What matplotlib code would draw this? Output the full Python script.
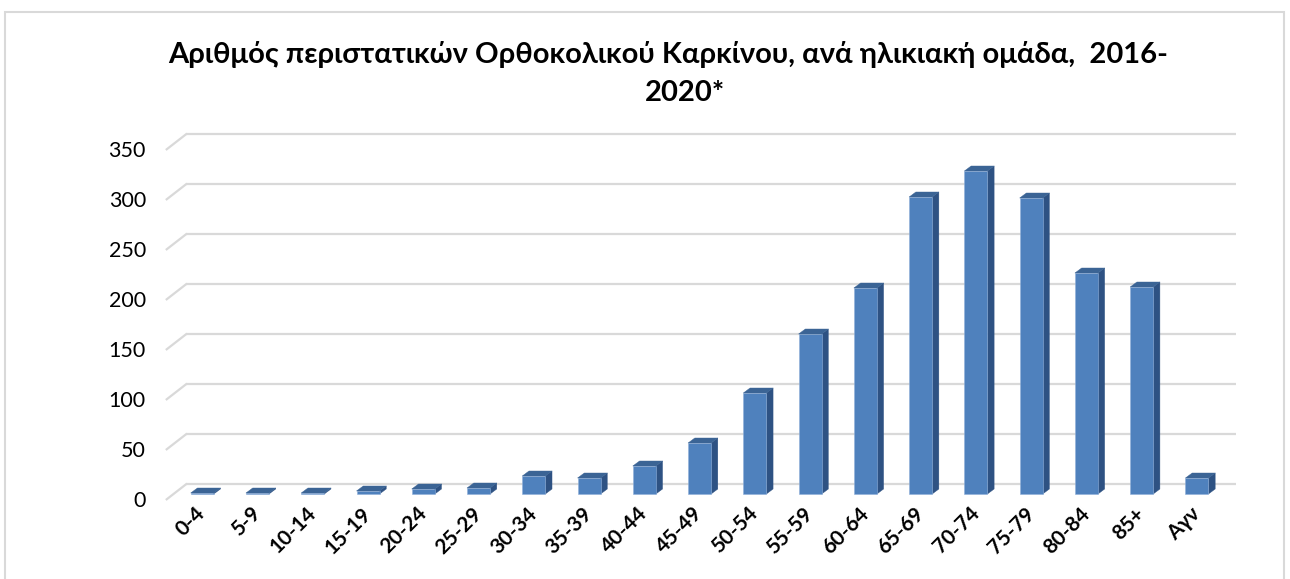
import matplotlib
matplotlib.use("Agg")
import matplotlib.pyplot as plt
from matplotlib import transforms
from matplotlib.collections import PolyCollection
from matplotlib.patches import Rectangle

# ---- data ----
categories = ["0-4", "5-9", "10-14", "15-19", "20-24", "25-29", "30-34", "35-39",
              "40-44", "45-49", "50-54", "55-59", "60-64", "65-69", "70-74",
              "75-79", "80-84", "85+", "Αγν"]
cases = [1, 1, 1, 3, 5, 6, 18, 16, 28, 51, 101, 160, 206, 297, 323, 296, 221, 207, 16]
y_ticks = [0, 50, 100, 150, 200, 250, 300, 350]
title_line1 = "Αριθμός περιστατικών Ορθοκολικού Καρκίνου, ανά ηλικιακή ομάδα,  2016-"
title_line2 = "2020*"

# ---- style ----
FONT = ["Lato", "Open Sans", "DejaVu Sans"]
plt.rcParams["font.family"] = FONT
W, H = 1290, 579
DPI = 100
front_c = "#4F81BD"
side_c = "#2E5283"
top_c = "#3B6495"
edge_c = "#8FB0DA"
grid_c = "#D9D9D9"

fig = plt.figure(figsize=(W / DPI, H / DPI), dpi=DPI)
fig.patch.set_facecolor("white")

# axes = front plane of the 3D box (pixels)
ax_left, ax_right = 166.7, 1216.7
ax_bottom, ax_top = 499.3, 149.3
ax = fig.add_axes([ax_left / W, 1 - ax_bottom / H,
                   (ax_right - ax_left) / W, (ax_bottom - ax_top) / H])
n = len(categories)
ax.set_xlim(-0.5, n - 0.5)
ax.set_ylim(0, 350)
for s in ax.spines.values():
    s.set_visible(False)
ax.set_facecolor("none")

# pixel scale of data units
sx = (ax_right - ax_left) / n          # px per category
sy = (ax_bottom - ax_top) / 350.0      # px per value unit

# wall depth (back wall offset)
wdx, wdy = 19.3 / sx, 15.0 / sy
# bar front plane offset and bar depth
bdx, bdy = 7.9 / sx, 5.3 / sy
ddx, ddy = 6.7 / sx, 5.0 / sy
bw = 23.0 / sx

# gridlines on back wall + diagonal edges on the left wall
for v in y_ticks:
    ax.plot([-0.5 + wdx, n - 0.5 + wdx], [v + wdy, v + wdy], color=grid_c,
            lw=1.6, zorder=1, clip_on=False, solid_capstyle="butt")
    ax.plot([-0.5, -0.5 + wdx], [v, v + wdy], color=grid_c,
            lw=1.6, zorder=1, clip_on=False)

# bars
xs = list(range(n))
ax.bar([x + bdx for x in xs], cases, width=bw, bottom=bdy, color=front_c,
       edgecolor=edge_c, linewidth=0.4, zorder=3, clip_on=False)
sides, tops = [], []
for x, v in zip(xs, cases):
    x0 = x + bdx - bw / 2
    x1 = x + bdx + bw / 2
    b = bdy
    sides.append([(x1, b), (x1, b + v), (x1 + ddx, b + v + ddy), (x1 + ddx, b + ddy)])
    tops.append([(x0, b + v), (x1, b + v), (x1 + ddx, b + v + ddy), (x0 + ddx, b + v + ddy)])
ax.add_collection(PolyCollection(sides, facecolors=side_c, edgecolors=side_c,
                                 linewidths=0.3, zorder=2, clip_on=False))
ax.add_collection(PolyCollection(tops, facecolors=top_c, edgecolors=top_c,
                                 linewidths=0.3, zorder=4, clip_on=False))

# ticks
ax.set_yticks(y_ticks)
ax.set_yticklabels([str(t) for t in y_ticks], fontsize=15.5, color="#000000")
ax.tick_params(axis="y", length=0, pad=15)
ax.set_xticks(xs)
ax.set_xticklabels(categories, rotation=45, ha="right", fontsize=15,
                   fontweight="bold", color="#000000")
ax.tick_params(axis="x", length=0, pad=3)
shift = transforms.ScaledTranslation(15 / DPI, 0, fig.dpi_scale_trans)
for lbl in ax.get_xticklabels():
    lbl.set_transform(lbl.get_transform() + shift)

# title
fig.text(668 / W, 1 - 55 / H, title_line1, ha="center", va="center",
         fontsize=21, fontweight="bold", color="#000000")
fig.text(685 / W, 1 - 93 / H, title_line2, ha="center", va="center",
         fontsize=21, fontweight="bold", color="#000000")

# chart border
fig.patches.append(Rectangle((5 / W, -0.05), (1284 - 5) / W, 1.05 - 12 / H,
                             transform=fig.transFigure, fill=False,
                             edgecolor=grid_c, lw=1.5))

fig.savefig("out.png", dpi=DPI, facecolor="white")
